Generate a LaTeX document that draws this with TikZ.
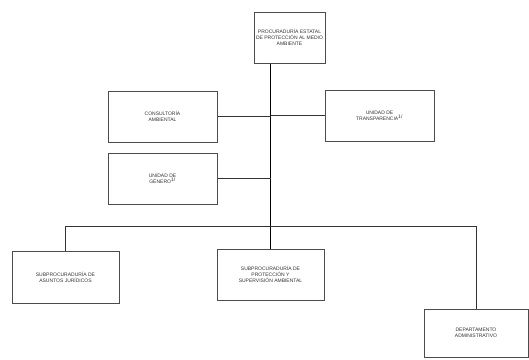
\documentclass[tikz,border=0pt]{standalone}
\usepackage{fontspec}
\setmainfont{Liberation Sans}
\usepackage{tikz}
\usetikzlibrary{calc}

\tikzset{
	unit/.style={draw=black!70, line width=1pt, align=center, inner sep=1pt,
		text=black!80, font=\fontsize{5}{6.2}\selectfont},
	link/.style={line width=0.8pt, black!80}
}

\begin{document}
\begin{tikzpicture}[x=1pt,y=-1pt]
\useasboundingbox (0,0) rectangle (529,359);
\fill[white] (0,0) rectangle (529,359);

\node[unit, minimum width=71pt, minimum height=51pt] (pro) at (289.5,37.5)
	{PROCURADUR\'IA ESTATAL\\DE PROTECCI\'ON AL MEDIO\\AMBIENTE};
\node[unit, minimum width=109pt, minimum height=51pt] (con) at (162.5,116.5)
	{CONSULTOR\'IA\\AMBIENTAL};
\node[unit, minimum width=109pt, minimum height=51pt] (tra) at (379.5,115.5)
	{UNIDAD DE\\TRANSPARENCIA\textsuperscript{1/}};
\node[unit, minimum width=109pt, minimum height=51pt] (gen) at (162.5,178.5)
	{UNIDAD DE\\G\'ENERO\textsuperscript{1/}};
\node[unit, minimum width=107pt, minimum height=52pt] (jur) at (65.5,277)
	{SUBPROCURADUR\'IA DE\\ASUNTOS JUR\'IDICOS};
\node[unit, minimum width=107pt, minimum height=51pt] (psa) at (270.5,274.5)
	{SUBPROCURADUR\'IA DE\\PROTECCI\'ON Y\\SUPERVISI\'ON AMBIENTAL};
\node[unit, minimum width=104pt, minimum height=48pt] (dep) at (476,333)
	{DEPARTAMENTO\\ADMINISTRATIVO};
\coordinate (bus) at (0,226);

% tronco
\draw[line width=1pt] (pro.south -| psa.north) -- (psa.north);
\foreach \n in {con,gen} {
	\draw[link] (\n.east) -- (\n.east -| psa.north);
}
\draw[link] (tra.west) -- (tra.west -| psa.north);
% subprocuradurias
\draw[link] (jur.north) -- (jur.north |- bus) -- (dep.north |- bus) -- (dep.north);
\end{tikzpicture}
\end{document}
